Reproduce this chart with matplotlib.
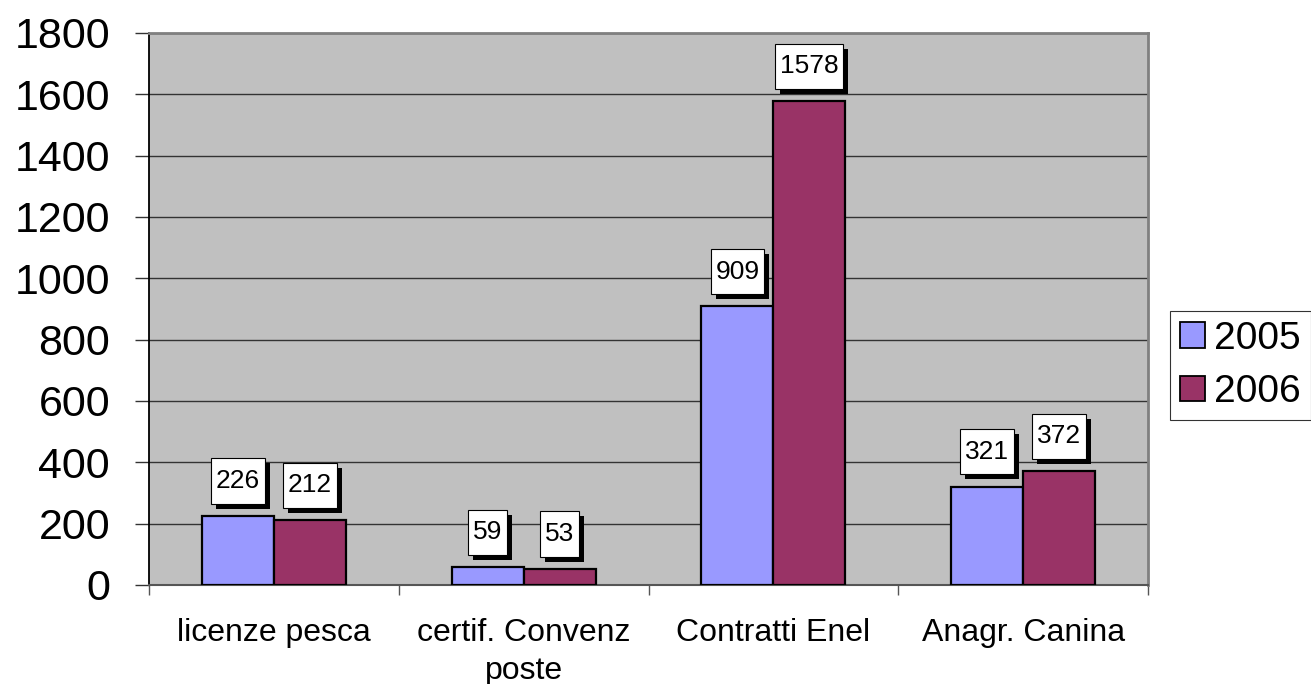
import matplotlib
matplotlib.use("Agg")
import matplotlib.pyplot as plt
import matplotlib.patheffects as pe
from matplotlib.path import Path
import numpy as np

categories = ["licenze pesca", "certif. Convenz\nposte", "Contratti Enel", "Anagr. Canina"]
years = ["2005", "2006"]
values_2005 = [226, 59, 909, 321]
values_2006 = [212, 53, 1578, 372]
y_ticks = [0, 200, 400, 600, 800, 1000, 1200, 1400, 1600, 1800]

colors = ["#9999FF", "#993366"]

plt.rcParams["font.family"] = ["Liberation Sans", "DejaVu Sans"]


def label_box(x0, y0, width, height, mutation_size):
    # square box, a bit more padding above/below than left/right
    px = 0.18 * mutation_size
    py = 0.40 * mutation_size
    x0, y0 = x0 - px, y0 - py
    x1, y1 = x0 + width + 2 * px, y0 + height + 2 * py
    return Path([(x0, y0), (x1, y0), (x1, y1), (x0, y1), (x0, y0)], closed=True)


fig = plt.figure(figsize=(13.11, 6.84), dpi=100)
ax = fig.add_axes([149 / 1311, 1 - 585 / 684, (1148 - 149) / 1311, (585 - 33) / 684])
ax.set_facecolor("#C0C0C0")

x = np.arange(len(categories))
width = 0.288

bars_a = ax.bar(x - width / 2, values_2005, width, color=colors[0],
                edgecolor="black", linewidth=1.6, label=years[0], zorder=3)
bars_b = ax.bar(x + width / 2, values_2006, width, color=colors[1],
                edgecolor="black", linewidth=1.6, label=years[1], zorder=3)

# value labels: white boxes with a hard black drop shadow
for bars, vals in ((bars_a, values_2005), (bars_b, values_2006)):
    for b, v in zip(bars, vals):
        t = ax.annotate(str(v), (b.get_x() + b.get_width() / 2, v),
                        xytext=(0, 25), textcoords="offset points",
                        ha="center", va="center", fontsize=19, zorder=5,
                        bbox=dict(boxstyle=label_box, facecolor="white",
                                  edgecolor="black", linewidth=0.8))
        t.get_bbox_patch().set_path_effects([
            pe.SimplePatchShadow(offset=(3.6, -3.6), shadow_rgbFace="black", alpha=1.0),
            pe.Normal()])

ax.set_xlim(-0.5, len(categories) - 0.5)
ax.set_ylim(0, 1800)
ax.set_yticks(y_ticks)
ax.set_yticklabels([str(v) for v in y_ticks], fontsize=31)
ax.tick_params(axis="y", length=10, width=1, pad=18, color="#333333")

ax.set_xticks(x)
ax.set_xticklabels(categories, fontsize=23, linespacing=1.33)
ax.set_xticks(np.arange(len(categories) + 1) - 0.5, minor=True)
ax.tick_params(axis="x", which="major", length=0, pad=24)
ax.tick_params(axis="x", which="minor", length=7, width=1, color="#555555")

ax.yaxis.grid(True, color="#333333", linewidth=1, zorder=1)
ax.set_axisbelow(True)

ax.spines["left"].set_color("black")
ax.spines["left"].set_linewidth(1.3)
ax.spines["bottom"].set_color("#555555")
ax.spines["bottom"].set_linewidth(1.5)
for s in ("top", "right"):
    ax.spines[s].set_color("#808080")
    ax.spines[s].set_linewidth(2)

leg = ax.legend(loc="upper left", bbox_to_anchor=(1170 / 1311, 1 - 311 / 684),
                bbox_transform=fig.transFigure, borderaxespad=0, fontsize=28,
                frameon=True, fancybox=False, shadow=False,
                handlelength=0.64, handleheight=0.64, handletextpad=0.25,
                labelspacing=0.45, borderpad=0.25)
leg.get_frame().set_edgecolor("black")
leg.get_frame().set_linewidth(0.8)
for h in leg.legend_handles:
    h.set_edgecolor("black")
    h.set_linewidth(1.3)

fig.savefig("out.png", dpi=100, facecolor="white")
